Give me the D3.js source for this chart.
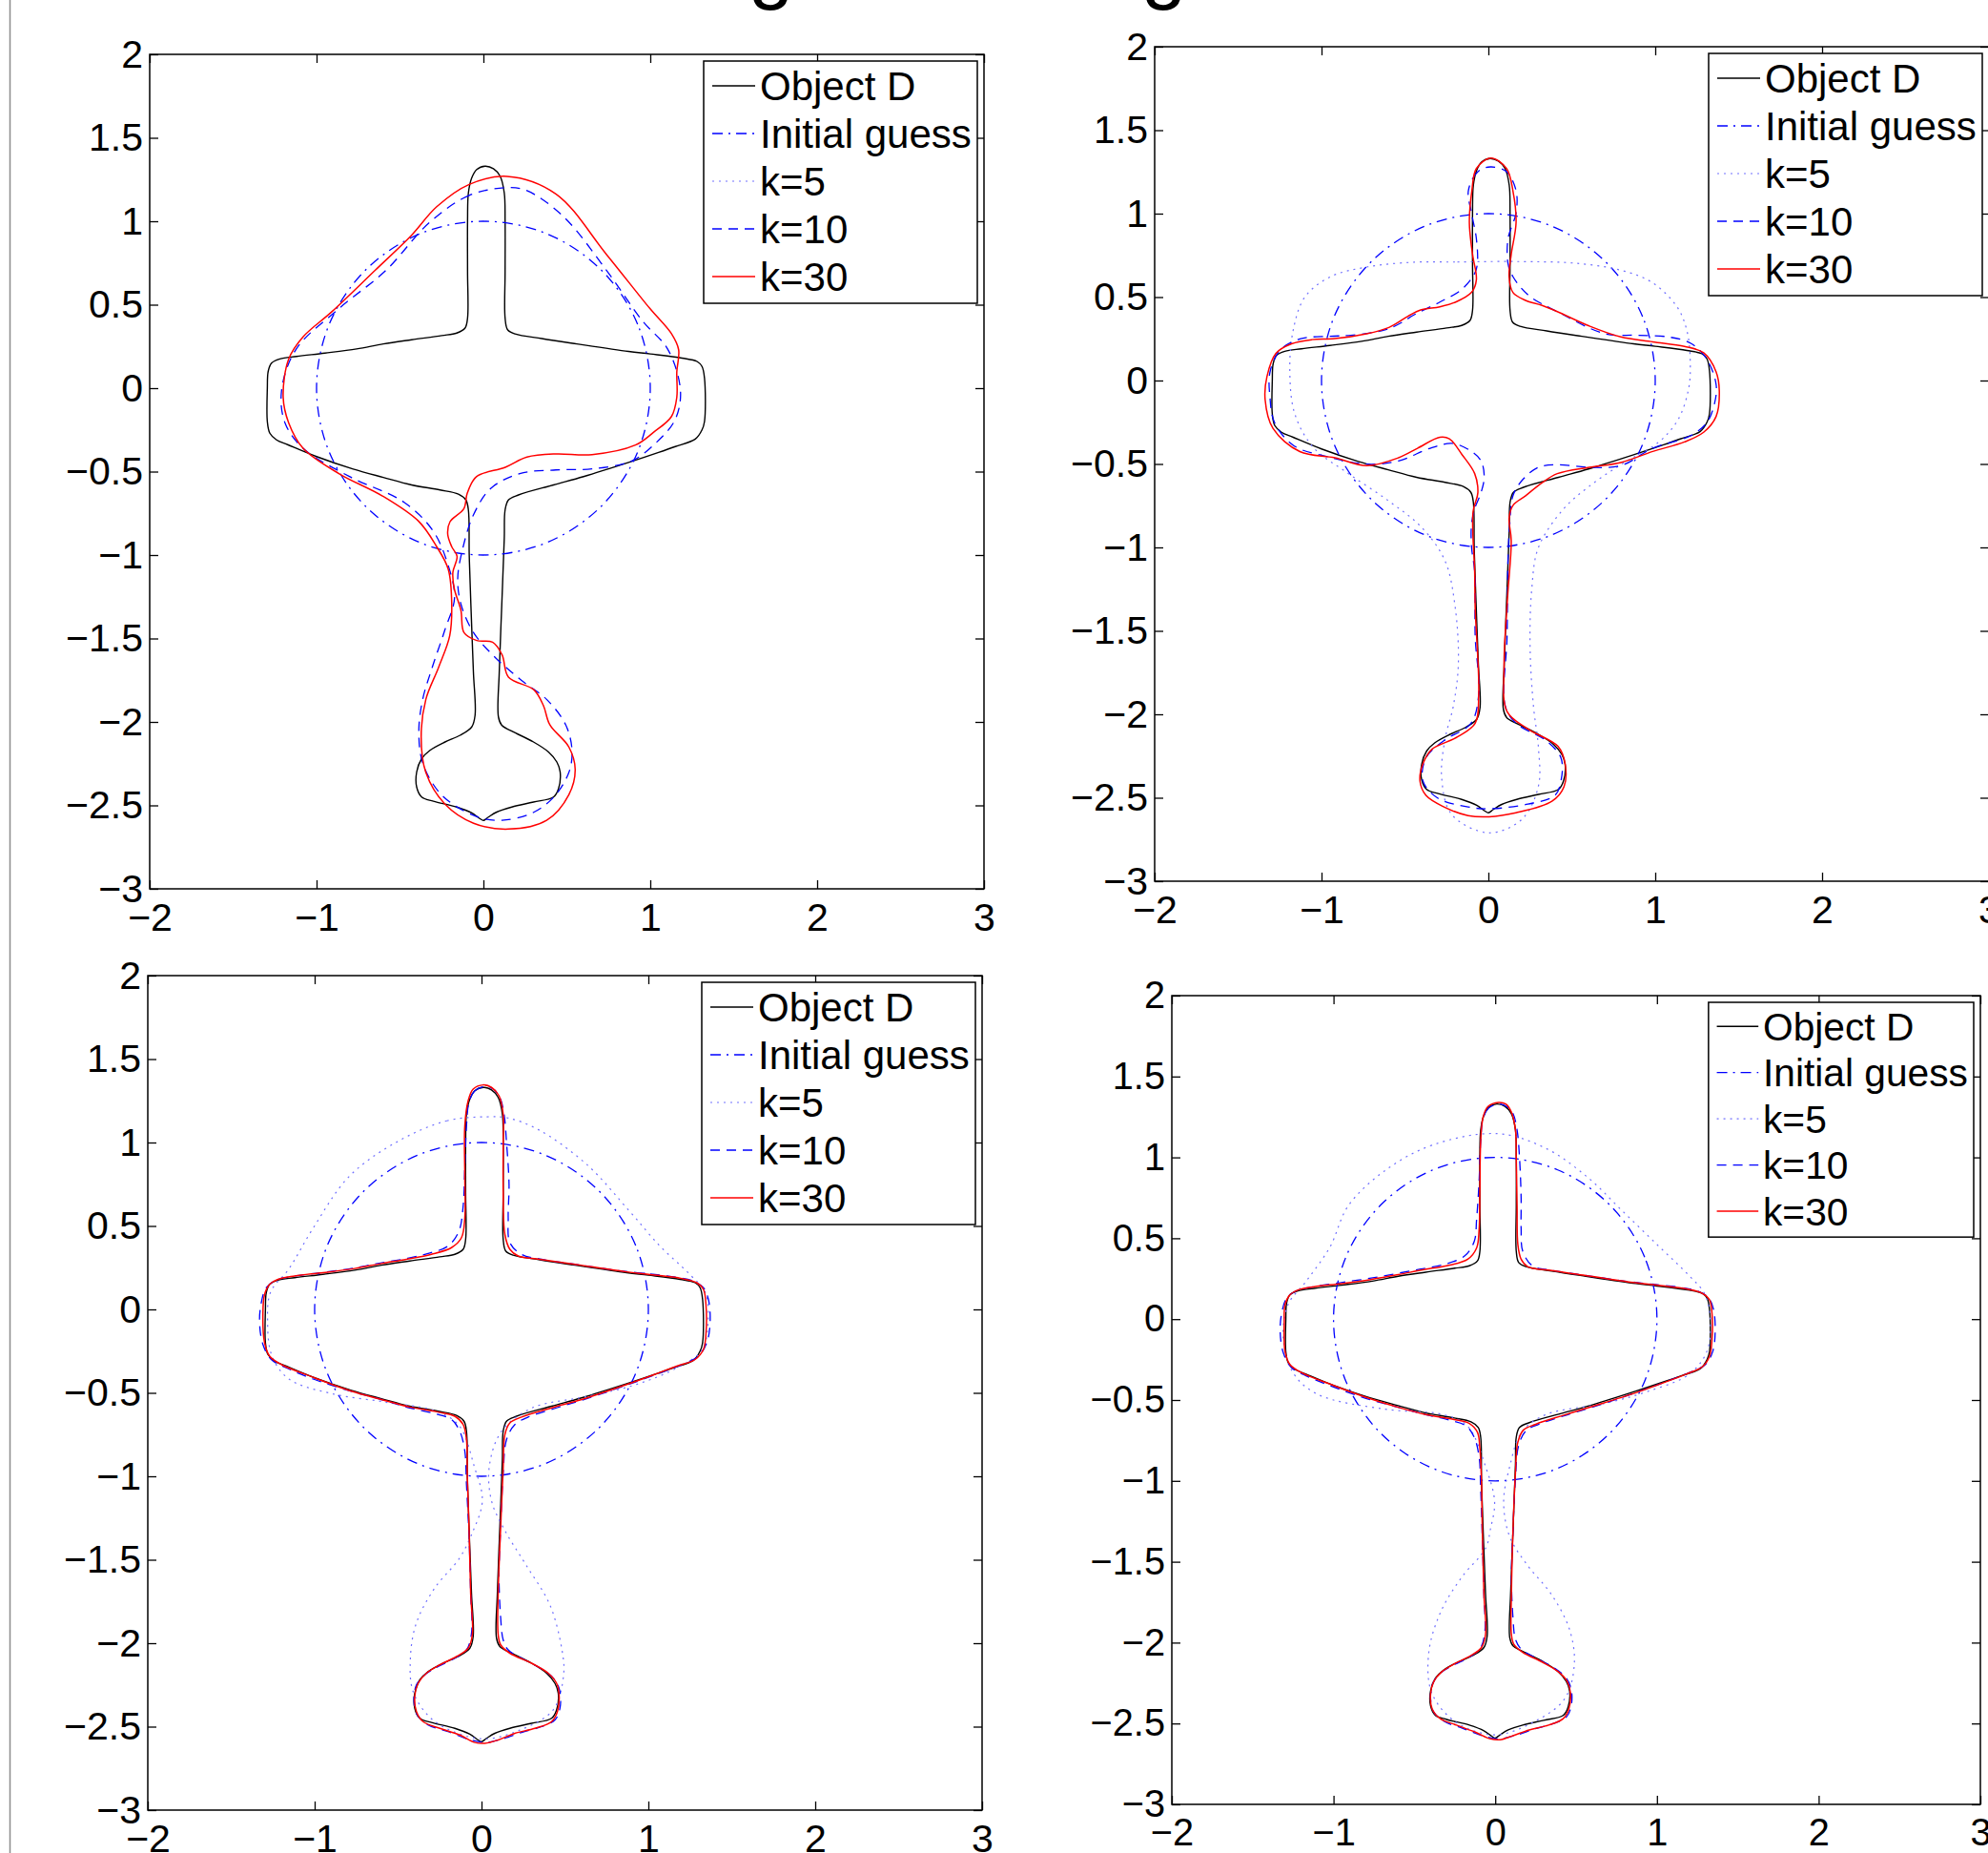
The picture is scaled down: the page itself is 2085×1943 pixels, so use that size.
<!DOCTYPE html>
<html><head><meta charset="utf-8">
<script src="https://cdn.jsdelivr.net/npm/d3@7"></script>
<style>
html,body{margin:0;padding:0;background:#fff;}
svg{display:block;}
text{font-family:"Liberation Sans",Arial,Helvetica,sans-serif;}
</style></head><body>
<svg id="fig" width="2085" height="1943"></svg>
<script>
// ---------------- DATA ----------------
const titleText = "Reconstructions using increasing k";
const xTicks = [-2,-1,0,1,2,3];
const xTickLabels = ["\u22122","\u22121","0","1","2","3"];
const yTicks = [2,1.5,1,0.5,0,-0.5,-1,-1.5,-2,-2.5,-3];
const yTickLabels = ["2","1.5","1","0.5","0","\u22120.5","\u22121","\u22121.5","\u22122","\u22122.5","\u22123"];
const legendLabels = ["Object D","Initial guess","k=5","k=10","k=30"];

const objectD = [[0.01,1.33],[-0.04,1.31],[-0.07,1.26],[-0.09,1.17],[-0.095,1.0],[-0.095,0.7],[-0.095,0.42],[-0.11,0.36],[-0.16,0.33],[-0.25,0.315],[-0.43,0.29],[-0.6,0.265],[-0.76,0.235],[-0.95,0.21],[-1.12,0.19],[-1.22,0.175],[-1.27,0.15],[-1.29,0.1],[-1.295,0.0],[-1.295,-0.2],[-1.28,-0.27],[-1.24,-0.31],[-1.17,-0.34],[-1.0,-0.41],[-0.78,-0.485],[-0.6,-0.535],[-0.43,-0.58],[-0.26,-0.61],[-0.15,-0.635],[-0.105,-0.67],[-0.09,-0.73],[-0.085,-1.0],[-0.075,-1.3],[-0.06,-1.7],[-0.05,-1.96],[-0.07,-2.03],[-0.14,-2.08],[-0.23,-2.12],[-0.32,-2.17],[-0.37,-2.22],[-0.4,-2.3],[-0.4,-2.39],[-0.37,-2.45],[-0.3,-2.475],[-0.16,-2.51],[-0.07,-2.545],[-0.02,-2.58],[0.0,-2.59],[0.03,-2.57],[0.08,-2.54],[0.17,-2.51],[0.3,-2.48],[0.42,-2.45],[0.45,-2.4],[0.46,-2.3],[0.44,-2.24],[0.39,-2.18],[0.3,-2.12],[0.17,-2.055],[0.11,-2.02],[0.09,-1.97],[0.095,-1.7],[0.11,-1.3],[0.125,-0.9],[0.13,-0.73],[0.15,-0.67],[0.21,-0.64],[0.42,-0.58],[0.6,-0.53],[0.87,-0.445],[1.05,-0.385],[1.15,-0.35],[1.27,-0.305],[1.31,-0.25],[1.325,-0.2],[1.325,0.06],[1.31,0.13],[1.28,0.16],[1.19,0.18],[1.0,0.205],[0.87,0.22],[0.56,0.265],[0.35,0.297],[0.19,0.325],[0.145,0.35],[0.13,0.42],[0.13,0.7],[0.13,1.0],[0.125,1.17],[0.1,1.27],[0.06,1.315]];

const initialGuess = [[1,0],[0.924,0.383],[0.707,0.707],[0.383,0.924],[0,1],[-0.383,0.924],[-0.707,0.707],[-0.924,0.383],[-1,0],[-0.924,-0.383],[-0.707,-0.707],[-0.383,-0.924],[0,-1],[0.383,-0.924],[0.707,-0.707],[0.924,-0.383]];

// Panel 1
const p1k5 = [];
const p1k10 = [[0.142,1.202],[-0.085,1.155],[-0.323,0.993],[-0.583,0.707],[-0.864,0.478],[-1.124,0.231],[-1.21,-0.017],[-1.189,-0.208],[-1.081,-0.36],[-0.8,-0.531],[-0.475,-0.684],[-0.302,-0.855],[-0.215,-1.05],[-0.173,-1.255],[-0.23,-1.446],[-0.307,-1.674],[-0.364,-1.865],[-0.387,-2.055],[-0.364,-2.246],[-0.269,-2.417],[-0.154,-2.512],[-0.002,-2.579],[0.112,-2.589],[0.284,-2.55],[0.417,-2.455],[0.512,-2.303],[0.531,-2.17],[0.493,-2.017],[0.379,-1.865],[0.227,-1.75],[0.074,-1.617],[-0.059,-1.465],[-0.135,-1.293],[-0.154,-1.141],[-0.126,-0.97],[-0.06,-0.76],[0.045,-0.6],[0.218,-0.512],[0.434,-0.49],[0.651,-0.484],[0.889,-0.436],[1.04,-0.322],[1.149,-0.189],[1.181,-0.017],[1.106,0.231],[0.954,0.402],[0.737,0.707],[0.478,1.03],[0.261,1.183]];
const p1k30 = [[0.142,1.269],[-0.085,1.221],[-0.28,1.087],[-0.431,0.916],[-0.648,0.707],[-0.907,0.459],[-1.081,0.307],[-1.167,0.174],[-1.2,-0.055],[-1.167,-0.208],[-1.081,-0.36],[-0.864,-0.513],[-0.605,-0.646],[-0.388,-0.798],[-0.28,-0.95],[-0.211,-1.084],[-0.19,-1.29],[-0.202,-1.484],[-0.269,-1.674],[-0.345,-1.865],[-0.373,-2.093],[-0.345,-2.303],[-0.23,-2.493],[-0.059,-2.607],[0.15,-2.642],[0.379,-2.589],[0.512,-2.436],[0.55,-2.284],[0.512,-2.15],[0.398,-2.017],[0.36,-1.903],[0.303,-1.808],[0.15,-1.731],[0.112,-1.598],[0.055,-1.522],[-0.04,-1.512],[-0.116,-1.465],[-0.135,-1.331],[-0.175,-1.2],[-0.183,-1.103],[-0.158,-1.008],[-0.19,-0.95],[-0.214,-0.874],[-0.2,-0.8],[-0.117,-0.722],[-0.097,-0.63],[-0.042,-0.531],[0.131,-0.474],[0.261,-0.413],[0.434,-0.394],[0.651,-0.398],[0.911,-0.341],[1.019,-0.265],[1.127,-0.17],[1.159,-0.055],[1.159,0.097],[1.17,0.23],[1.127,0.326],[0.997,0.478],[0.737,0.802],[0.434,1.164]];

// Panel 2
const p2k5 = [[0.03,0.713],[-0.2,0.71],[-0.444,0.709],[-0.73,0.68],[-0.95,0.62],[-1.1,0.5],[-1.17,0.3],[-1.19,0.05],[-1.16,-0.2],[-1.05,-0.4],[-0.85,-0.55],[-0.6,-0.72],[-0.4,-0.88],[-0.26,-1.08],[-0.2,-1.35],[-0.18,-1.7],[-0.21,-1.95],[-0.26,-2.15],[-0.28,-2.38],[-0.22,-2.6],[0.0,-2.71],[0.2,-2.63],[0.3,-2.43],[0.3,-2.2],[0.27,-1.95],[0.25,-1.6],[0.26,-1.25],[0.3,-1.0],[0.45,-0.77],[0.604,-0.634],[0.8,-0.5],[1.02,-0.37],[1.137,-0.234],[1.2,-0.05],[1.21,0.1],[1.194,0.28],[1.137,0.432],[0.985,0.585],[0.794,0.661],[0.508,0.704],[0.25,0.712]];
const p2k10 = [[0.013,1.28],[-0.063,1.251],[-0.12,1.137],[-0.101,1.004],[-0.072,0.851],[-0.066,0.699],[-0.082,0.642],[-0.158,0.547],[-0.291,0.47],[-0.444,0.394],[-0.539,0.337],[-0.635,0.299],[-0.825,0.271],[-0.95,0.265],[-1.13,0.249],[-1.25,0.18],[-1.309,0.05],[-1.309,-0.1],[-1.281,-0.253],[-1.165,-0.391],[-0.95,-0.46],[-0.73,-0.501],[-0.539,-0.482],[-0.349,-0.406],[-0.215,-0.377],[-0.101,-0.425],[-0.044,-0.482],[-0.025,-0.577],[-0.044,-0.672],[-0.082,-0.768],[-0.101,-0.863],[-0.101,-0.996],[-0.082,-1.149],[-0.079,-1.534],[-0.058,-1.88],[-0.104,-2.053],[-0.266,-2.157],[-0.374,-2.261],[-0.392,-2.4],[-0.302,-2.503],[-0.122,-2.555],[0.004,-2.566],[0.237,-2.538],[0.399,-2.486],[0.435,-2.4],[0.435,-2.261],[0.345,-2.157],[0.165,-2.053],[0.101,-1.95],[0.112,-1.534],[0.118,-1.053],[0.128,-0.863],[0.147,-0.691],[0.204,-0.596],[0.299,-0.52],[0.413,-0.505],[0.604,-0.52],[0.794,-0.51],[0.985,-0.406],[1.213,-0.33],[1.309,-0.253],[1.355,-0.139],[1.365,-0.025],[1.309,0.128],[1.213,0.223],[1.08,0.261],[0.89,0.271],[0.699,0.28],[0.413,0.413],[0.242,0.509],[0.147,0.623],[0.118,0.699],[0.118,0.851],[0.166,1.004],[0.166,1.137],[0.109,1.251]];
const p2k30 = [[0.015,1.333],[-0.072,1.27],[-0.099,1.137],[-0.114,0.947],[-0.095,0.756],[-0.072,0.604],[-0.101,0.528],[-0.196,0.47],[-0.291,0.442],[-0.406,0.423],[-0.482,0.385],[-0.596,0.318],[-0.73,0.28],[-0.92,0.251],[-1.058,0.245],[-1.18,0.22],[-1.273,0.163],[-1.327,0.024],[-1.338,-0.114],[-1.291,-0.287],[-1.13,-0.426],[-0.92,-0.463],[-0.73,-0.51],[-0.539,-0.463],[-0.425,-0.406],[-0.291,-0.34],[-0.234,-0.349],[-0.158,-0.444],[-0.082,-0.558],[-0.063,-0.672],[-0.092,-0.787],[-0.082,-1.149],[-0.079,-1.361],[-0.058,-1.88],[-0.079,-2.053],[-0.194,-2.14],[-0.338,-2.209],[-0.392,-2.296],[-0.41,-2.4],[-0.374,-2.486],[-0.266,-2.555],[-0.122,-2.607],[0.004,-2.614],[0.165,-2.59],[0.381,-2.521],[0.453,-2.434],[0.46,-2.296],[0.417,-2.192],[0.237,-2.088],[0.112,-1.984],[0.094,-1.707],[0.115,-1.3],[0.137,-0.958],[0.124,-0.825],[0.147,-0.749],[0.223,-0.691],[0.318,-0.615],[0.413,-0.558],[0.604,-0.52],[0.794,-0.491],[0.985,-0.425],[1.175,-0.368],[1.29,-0.31],[1.365,-0.215],[1.384,-0.063],[1.365,0.052],[1.29,0.166],[1.175,0.204],[0.985,0.232],[0.794,0.261],[0.604,0.327],[0.413,0.413],[0.318,0.451],[0.223,0.48],[0.147,0.528],[0.124,0.623],[0.137,0.756],[0.166,0.947],[0.147,1.137],[0.109,1.27]];

// Panel 3
const p3k5 = [[0.029,1.154],[-0.208,1.13],[-0.499,1.008],[-0.79,0.8],[-1.009,0.487],[-1.154,0.243],[-1.264,0.104],[-1.282,-0.07],[-1.256,-0.278],[-1.154,-0.417],[-0.9,-0.504],[-0.572,-0.556],[-0.28,-0.608],[-0.135,-0.695],[-0.044,-0.939],[0.005,-1.147],[-0.06,-1.35],[-0.135,-1.495],[-0.28,-1.669],[-0.39,-1.878],[-0.426,-2.086],[-0.408,-2.295],[-0.28,-2.469],[0,-2.573],[0.229,-2.521],[0.43,-2.399],[0.492,-2.191],[0.484,-2.051],[0.411,-1.773],[0.266,-1.53],[0.138,-1.321],[0.06,-1.147],[0.047,-0.939],[0.12,-0.73],[0.302,-0.591],[0.63,-0.522],[0.921,-0.452],[1.176,-0.348],[1.322,-0.243],[1.358,-0.07],[1.34,0.104],[1.249,0.209],[1.067,0.382],[0.885,0.591],[0.63,0.869],[0.339,1.078],[0.157,1.147]];
const p3k10 = [[0.02,1.335],[-0.04,1.31],[-0.075,1.24],[-0.09,1.1],[-0.1,0.85],[-0.11,0.62],[-0.135,0.47],[-0.2,0.38],[-0.32,0.335],[-0.45,0.305],[-0.62,0.275],[-0.78,0.245],[-0.96,0.22],[-1.12,0.2],[-1.23,0.175],[-1.29,0.13],[-1.32,0.04],[-1.33,-0.08],[-1.31,-0.21],[-1.26,-0.3],[-1.17,-0.35],[-1.0,-0.42],[-0.8,-0.485],[-0.6,-0.54],[-0.43,-0.59],[-0.28,-0.625],[-0.18,-0.66],[-0.13,-0.73],[-0.1,-0.85],[-0.09,-1.05],[-0.075,-1.35],[-0.065,-1.7],[-0.06,-1.94],[-0.09,-2.04],[-0.16,-2.09],[-0.26,-2.14],[-0.34,-2.19],[-0.39,-2.25],[-0.405,-2.34],[-0.385,-2.43],[-0.32,-2.49],[-0.2,-2.53],[-0.08,-2.575],[0.02,-2.595],[0.12,-2.575],[0.24,-2.535],[0.36,-2.5],[0.44,-2.46],[0.47,-2.39],[0.47,-2.29],[0.44,-2.22],[0.37,-2.16],[0.26,-2.1],[0.16,-2.04],[0.13,-1.98],[0.115,-1.85],[0.105,-1.6],[0.115,-1.3],[0.13,-0.98],[0.15,-0.78],[0.2,-0.69],[0.28,-0.645],[0.45,-0.59],[0.63,-0.535],[0.88,-0.45],[1.06,-0.385],[1.19,-0.335],[1.3,-0.28],[1.35,-0.2],[1.37,-0.08],[1.36,0.06],[1.33,0.13],[1.27,0.17],[1.15,0.195],[0.98,0.215],[0.8,0.235],[0.56,0.27],[0.36,0.3],[0.24,0.33],[0.17,0.4],[0.16,0.55],[0.165,0.75],[0.15,1.0],[0.135,1.17],[0.11,1.27],[0.07,1.32]];
const p3k30 = [[0.01,1.345],[-0.05,1.32],[-0.08,1.25],[-0.1,1.1],[-0.1,0.8],[-0.1,0.55],[-0.12,0.43],[-0.18,0.37],[-0.3,0.33],[-0.45,0.3],[-0.6,0.275],[-0.76,0.245],[-0.95,0.22],[-1.12,0.2],[-1.22,0.18],[-1.27,0.15],[-1.3,0.09],[-1.31,-0.02],[-1.3,-0.2],[-1.27,-0.28],[-1.2,-0.33],[-1.0,-0.41],[-0.78,-0.49],[-0.6,-0.54],[-0.43,-0.585],[-0.26,-0.615],[-0.16,-0.64],[-0.11,-0.69],[-0.09,-0.78],[-0.085,-1.0],[-0.075,-1.3],[-0.065,-1.7],[-0.055,-1.95],[-0.08,-2.03],[-0.15,-2.08],[-0.25,-2.13],[-0.33,-2.18],[-0.38,-2.24],[-0.4,-2.32],[-0.39,-2.41],[-0.35,-2.47],[-0.25,-2.51],[-0.13,-2.55],[-0.04,-2.595],[0.02,-2.6],[0.1,-2.58],[0.2,-2.54],[0.32,-2.51],[0.42,-2.47],[0.455,-2.41],[0.465,-2.31],[0.45,-2.24],[0.4,-2.18],[0.3,-2.12],[0.17,-2.06],[0.115,-2.01],[0.1,-1.95],[0.1,-1.7],[0.115,-1.3],[0.13,-0.95],[0.14,-0.75],[0.17,-0.68],[0.24,-0.645],[0.42,-0.59],[0.6,-0.54],[0.87,-0.45],[1.05,-0.385],[1.17,-0.34],[1.28,-0.3],[1.33,-0.24],[1.345,-0.15],[1.345,0.03],[1.33,0.12],[1.29,0.16],[1.2,0.185],[1.0,0.21],[0.87,0.225],[0.56,0.27],[0.35,0.3],[0.22,0.32],[0.17,0.36],[0.14,0.45],[0.13,0.7],[0.13,1.0],[0.13,1.17],[0.105,1.28],[0.06,1.33]];

// Panel 4
const p4k5 = [[0.015,1.147],[-0.392,1.075],[-0.688,0.914],[-0.91,0.699],[-1.021,0.448],[-1.17,0.233],[-1.281,0.09],[-1.31,-0.125],[-1.244,-0.341],[-1.095,-0.466],[-0.688,-0.556],[-0.318,-0.591],[-0.17,-0.663],[-0.059,-0.914],[-0.004,-1.129],[-0.03,-1.3],[-0.059,-1.416],[-0.207,-1.595],[-0.337,-1.81],[-0.411,-2.061],[-0.392,-2.312],[-0.244,-2.491],[0,-2.57],[0.237,-2.491],[0.429,-2.348],[0.489,-2.133],[0.459,-1.918],[0.348,-1.703],[0.2,-1.523],[0.089,-1.344],[0.052,-1.129],[0.089,-0.914],[0.163,-0.699],[0.311,-0.591],[0.681,-0.52],[0.94,-0.448],[1.199,-0.341],[1.31,-0.197],[1.329,0.018],[1.292,0.161],[1.199,0.269],[1.014,0.448],[0.792,0.663],[0.57,0.878],[0.311,1.057]];
const p4k10 = [[0.02,1.33],[-0.04,1.305],[-0.075,1.24],[-0.09,1.1],[-0.1,0.85],[-0.115,0.62],[-0.13,0.48],[-0.19,0.39],[-0.31,0.34],[-0.46,0.31],[-0.62,0.28],[-0.79,0.25],[-0.96,0.225],[-1.12,0.2],[-1.23,0.175],[-1.29,0.13],[-1.32,0.04],[-1.33,-0.08],[-1.31,-0.21],[-1.26,-0.3],[-1.17,-0.35],[-1.0,-0.42],[-0.8,-0.49],[-0.6,-0.545],[-0.43,-0.59],[-0.28,-0.625],[-0.18,-0.66],[-0.13,-0.73],[-0.1,-0.85],[-0.09,-1.05],[-0.08,-1.35],[-0.07,-1.7],[-0.065,-1.94],[-0.095,-2.04],[-0.16,-2.09],[-0.26,-2.14],[-0.34,-2.19],[-0.385,-2.25],[-0.4,-2.34],[-0.38,-2.43],[-0.31,-2.49],[-0.2,-2.53],[-0.08,-2.575],[0.02,-2.595],[0.12,-2.575],[0.24,-2.535],[0.36,-2.5],[0.44,-2.46],[0.47,-2.39],[0.47,-2.29],[0.44,-2.22],[0.37,-2.16],[0.26,-2.1],[0.16,-2.04],[0.125,-1.98],[0.11,-1.85],[0.1,-1.6],[0.11,-1.3],[0.125,-0.98],[0.145,-0.78],[0.19,-0.69],[0.27,-0.65],[0.45,-0.59],[0.63,-0.535],[0.88,-0.45],[1.06,-0.385],[1.19,-0.335],[1.3,-0.28],[1.345,-0.2],[1.36,-0.08],[1.35,0.06],[1.32,0.13],[1.26,0.17],[1.15,0.195],[0.98,0.215],[0.8,0.235],[0.56,0.27],[0.36,0.3],[0.23,0.33],[0.17,0.42],[0.16,0.56],[0.16,0.75],[0.15,1.0],[0.135,1.17],[0.11,1.27],[0.07,1.315]];
const p4k30 = [[0.02,1.34],[-0.045,1.315],[-0.075,1.25],[-0.09,1.1],[-0.095,0.8],[-0.1,0.55],[-0.115,0.44],[-0.17,0.37],[-0.3,0.33],[-0.45,0.305],[-0.6,0.275],[-0.77,0.245],[-0.95,0.22],[-1.12,0.2],[-1.22,0.18],[-1.27,0.15],[-1.3,0.09],[-1.305,-0.02],[-1.3,-0.2],[-1.27,-0.28],[-1.2,-0.33],[-1.0,-0.41],[-0.78,-0.49],[-0.6,-0.545],[-0.43,-0.59],[-0.26,-0.62],[-0.16,-0.645],[-0.11,-0.7],[-0.095,-0.8],[-0.085,-1.0],[-0.08,-1.3],[-0.07,-1.7],[-0.06,-1.95],[-0.085,-2.03],[-0.15,-2.08],[-0.25,-2.13],[-0.33,-2.18],[-0.38,-2.24],[-0.4,-2.32],[-0.39,-2.41],[-0.34,-2.47],[-0.24,-2.51],[-0.12,-2.555],[-0.03,-2.595],[0.03,-2.6],[0.11,-2.575],[0.21,-2.54],[0.33,-2.51],[0.42,-2.47],[0.455,-2.41],[0.465,-2.31],[0.445,-2.24],[0.39,-2.18],[0.29,-2.12],[0.17,-2.06],[0.115,-2.01],[0.1,-1.95],[0.1,-1.7],[0.11,-1.3],[0.125,-0.95],[0.14,-0.76],[0.175,-0.685],[0.25,-0.65],[0.42,-0.595],[0.6,-0.54],[0.87,-0.455],[1.05,-0.39],[1.18,-0.34],[1.28,-0.295],[1.325,-0.23],[1.34,-0.13],[1.34,0.04],[1.325,0.12],[1.28,0.16],[1.19,0.185],[1.0,0.21],[0.87,0.225],[0.56,0.27],[0.35,0.3],[0.2,0.325],[0.16,0.37],[0.14,0.46],[0.135,0.7],[0.13,1.0],[0.125,1.17],[0.1,1.28],[0.065,1.33]];

// ---------------- LAYOUT / STYLE ----------------
const panels = [
  {left:157, top:57, size:875, k5:p1k5, k10:p1k10, k30:p1k30},
  {left:1211, top:49, size:875, k5:p2k5, k10:p2k10, k30:p2k30},
  {left:155, top:1023, size:875, k5:p3k5, k10:p3k10, k30:p3k30},
  {left:1229, top:1044, size:848, k5:p4k5, k10:p4k10, k30:p4k30}
];
const seriesStyle = [
  {key:"obj", stroke:"#000000", width:1.4, dash:null},
  {key:"init", stroke:"#0000ff", width:1.3, dash:"11,6,2,6"},
  {key:"k5", stroke:"#7070ff", width:1.2, dash:"2,5"},
  {key:"k10", stroke:"#0000ff", width:1.3, dash:"10,7"},
  {key:"k30", stroke:"#ff0000", width:1.5, dash:null}
];

const svg = d3.select("#fig");
svg.append("rect").attr("width",2085).attr("height",1943).attr("fill","#fff");

// left border line
svg.append("line").attr("x1",10.5).attr("x2",10.5).attr("y1",0).attr("y2",1943)
  .attr("stroke","#8c8c8c").attr("stroke-width",1.5);

// title (mostly above the visible area)
const title = svg.append("text").text(titleText).attr("font-size",80).attr("x",0).attr("y",0).attr("fill","#000");
{
  const node = title.node();
  const idx = [];
  [...titleText].forEach((c,i)=>{ if(c==="g") idx.push(i); });
  const a0 = node.getStartPositionOfChar(idx[0]).x, a1 = node.getStartPositionOfChar(idx[1]).x;
  const fs = 80 * 412 / (a1 - a0);
  title.attr("font-size", fs);
  const b0 = node.getStartPositionOfChar(idx[0]).x;
  title.attr("x", 785 - b0).attr("y", 11 - 0.212*fs);
}

panels.forEach((p, pi) => {
  const sc = p.size / 875;
  const x = d3.scaleLinear().domain([-2,3]).range([p.left, p.left + p.size]);
  const y = d3.scaleLinear().domain([-3,2]).range([p.top + p.size, p.top]);
  const g = svg.append("g");
  const clipId = "clip" + pi;
  g.append("clipPath").attr("id", clipId).append("rect")
    .attr("x", p.left).attr("y", p.top).attr("width", p.size).attr("height", p.size);

  const line = d3.line().x(d => x(d[0])).y(d => y(d[1])).curve(d3.curveCatmullRomClosed.alpha(0.5));
  const dataFor = {obj: objectD, init: initialGuess, k5: p.k5, k10: p.k10, k30: p.k30};
  const plot = g.append("g").attr("clip-path", `url(#${clipId})`);
  seriesStyle.forEach(s => {
    const data = dataFor[s.key];
    if (!data.length) return;
    plot.append("path").attr("d", line(data)).attr("fill","none")
      .attr("stroke", s.stroke).attr("stroke-width", s.width)
      .attr("stroke-dasharray", s.dash).attr("stroke-linejoin","round");
  });

  const tk = 9;
  const axB = g.append("g").attr("transform", `translate(0,${p.top + p.size})`)
    .call(d3.axisBottom(x).tickValues(xTicks).tickSizeInner(-tk).tickSizeOuter(0).tickPadding(15*sc)
      .tickFormat((d,i) => xTickLabels[i]));
  const axT = g.append("g").attr("transform", `translate(0,${p.top})`)
    .call(d3.axisTop(x).tickValues(xTicks).tickSizeInner(-tk).tickSizeOuter(0).tickFormat(""));
  const axL = g.append("g").attr("transform", `translate(${p.left},0)`)
    .call(d3.axisLeft(y).tickValues(yTicks).tickSizeInner(-tk).tickSizeOuter(0).tickPadding(7)
      .tickFormat((d,i) => yTickLabels[i]));
  const axR = g.append("g").attr("transform", `translate(${p.left + p.size},0)`)
    .call(d3.axisRight(y).tickValues(yTicks).tickSizeInner(-tk).tickSizeOuter(0).tickFormat(""));
  [axB, axT, axL, axR].forEach(a => {
    a.select(".domain").remove();
    a.selectAll("line").attr("stroke","#000").attr("stroke-width",1.3);
    a.selectAll("text").attr("font-size",41*sc).attr("fill","#000")
      .attr("font-family",'"Liberation Sans",Arial,Helvetica,sans-serif');
  });
  g.append("rect").attr("x", p.left).attr("y", p.top).attr("width", p.size).attr("height", p.size)
    .attr("fill","none").attr("stroke","#000").attr("stroke-width",1.5);

  // legend
  const W = 287 * sc, H = 254 * sc;
  const lx = p.left + p.size - 7 - W, ly = p.top + 7;
  const lg = g.append("g").attr("transform", `translate(${lx},${ly})`);
  lg.append("rect").attr("width", W).attr("height", H).attr("fill","#fff")
    .attr("stroke","#000").attr("stroke-width",1.5);
  seriesStyle.forEach((s, i) => {
    const cy = (26 + i * 50) * sc;
    lg.append("line").attr("x1", 9*sc).attr("x2", 54*sc).attr("y1", cy).attr("y2", cy)
      .attr("stroke", s.stroke).attr("stroke-width", s.width).attr("stroke-dasharray", s.dash);
    lg.append("text").attr("x", 59*sc).attr("y", cy).attr("dy","0.36em")
      .attr("font-size", 42*sc).attr("fill","#000").text(legendLabels[i]);
  });
});
</script>
</body></html>
